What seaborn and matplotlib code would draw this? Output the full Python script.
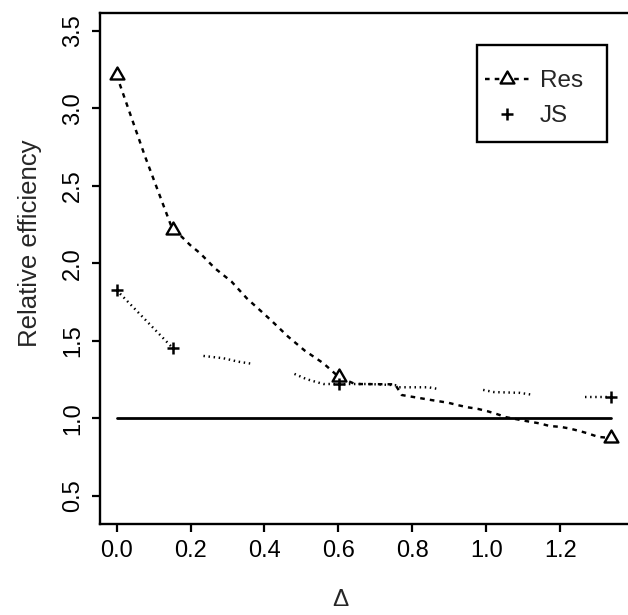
import numpy as np
import pandas as pd
import matplotlib
matplotlib.use("Agg")
import matplotlib.pyplot as plt
from matplotlib.path import Path
from matplotlib.lines import Line2D
from matplotlib.patches import Rectangle
import seaborn as sns

# Res: relative efficiency curve (dashed) and its marked points
res_x = [0.000, 0.077, 0.152, 0.176, 0.199, 0.226, 0.266, 0.311, 0.352, 0.397,
         0.419, 0.464, 0.509, 0.559, 0.602, 0.645, 0.753, 0.771, 0.808, 0.850,
         0.897, 0.924, 0.949, 0.976, 1.002, 1.026, 1.053, 1.110, 1.144, 1.171,
         1.199, 1.223, 1.250, 1.275, 1.302, 1.337]
res_y = [3.215, 2.690, 2.214, 2.172, 2.118, 2.065, 1.968, 1.882, 1.775, 1.678,
         1.630, 1.527, 1.437, 1.356, 1.265, 1.222, 1.220, 1.151, 1.136, 1.119,
         1.101, 1.085, 1.072, 1.062, 1.047, 1.030, 1.008, 0.982, 0.968, 0.951,
         0.946, 0.936, 0.920, 0.903, 0.881, 0.874]
res_mark_x = [0.000, 0.152, 0.602, 1.337]
res_mark_y = [3.215, 2.214, 1.265, 0.874]

# JS: dotted curve drawn in pieces, and its marked points
js_x = [0.000, 0.152,
        0.235, 0.289, 0.329, 0.370,
        0.481, 0.514, 0.559, 0.602, 0.680, 0.753, 0.762, 0.843, 0.874,
        0.991, 1.020, 1.090, 1.126,
        1.266, 1.337]
js_y = [1.828, 1.454,
        1.403, 1.388, 1.366, 1.351,
        1.287, 1.253, 1.222, 1.222, 1.222, 1.215, 1.201, 1.201, 1.188,
        1.184, 1.170, 1.165, 1.152,
        1.136, 1.136]
js_seg = [0, 0,
          1, 1, 1, 1,
          2, 2, 2, 2, 2, 2, 2, 2, 2,
          3, 3, 3, 3,
          4, 4]
js_mark_x = [0.000, 0.152, 0.602, 1.337]
js_mark_y = [1.828, 1.454, 1.222, 1.136]

# reference level of 1
ref_x = [0.0, 1.337]
ref_y = [1.0, 1.0]

x_ticks = [0.0, 0.2, 0.4, 0.6, 0.8, 1.0, 1.2]
y_ticks = [0.5, 1.0, 1.5, 2.0, 2.5, 3.0, 3.5]

sns.set_theme(style="white")
plt.rcParams["font.family"] = ["Liberation Sans", "DejaVu Sans"]

W, H = 628, 615
fig = plt.figure(figsize=(W / 100, H / 100), dpi=100)
left, right, top, bottom = 99.5, 630.0, 12.7, 524.3
ax = fig.add_axes([left / W, 1 - bottom / H, (right - left) / W, (bottom - top) / H])

# triangle centred on its centroid
tri = Path([(0, 1), (-0.866, -0.5), (0.866, -0.5), (0, 1)],
           [Path.MOVETO, Path.LINETO, Path.LINETO, Path.CLOSEPOLY])

LW = 1.75
res_dash = (0, (1.9, 2.1))
js_dot = (0, (0.6, 1.5))

res_df = pd.DataFrame({"x": res_x, "y": res_y})
js_df = pd.DataFrame({"x": js_x, "y": js_y, "seg": js_seg})
ref_df = pd.DataFrame({"x": ref_x, "y": ref_y})

sns.lineplot(data=ref_df, x="x", y="y", ax=ax, color="black", lw=2.0,
             estimator=None, sort=False)
sns.lineplot(data=res_df, x="x", y="y", ax=ax, color="black", lw=LW,
             linestyle=res_dash, estimator=None, sort=False)
sns.lineplot(data=js_df, x="x", y="y", units="seg", ax=ax, color="black",
             lw=LW, linestyle=js_dot, estimator=None, sort=False)

ax.plot(res_mark_x, res_mark_y, linestyle="none", marker=tri, ms=11.5,
        mfc="white", mec="black", mew=1.7, clip_on=False, zorder=5)
ax.plot(js_mark_x, js_mark_y, linestyle="none", marker="+", ms=9.0,
        mec="black", mew=1.8, clip_on=False, zorder=5)

ax.set_xlim(-0.046, 1.388)
ax.set_ylim(0.3175, 3.616)
ax.set_xticks(x_ticks)
ax.set_yticks(y_ticks)
ax.set_xticklabels([f"{v:.1f}" for v in x_ticks])
ax.set_yticklabels([f"{v:.1f}" for v in y_ticks], rotation=90, va="center")
ax.tick_params(axis="both", direction="out", length=6, width=1.6,
               color="black", labelsize=17, labelcolor="black", pad=5,
               left=True, bottom=True)
ax.set_xlabel("")
ax.set_ylabel("")
for s in ax.spines.values():
    s.set_visible(True)
    s.set_color("black")
    s.set_linewidth(1.7)

fig.text(340 / W, 1 - 600 / H, "Δ", ha="center", va="center", fontsize=17.5)
fig.text(30 / W, 1 - 243 / H, "Relative efficiency", ha="center",
         va="center", rotation=90, fontsize=18.5)

# legend entries without a frame, boxed by a separate rectangle
handles = [
    Line2D([], [], color="black", lw=LW, linestyle=res_dash, marker=tri,
           ms=11.5, mfc="white", mec="black", mew=1.7),
    Line2D([], [], color="black", linestyle="none", marker="+", ms=9.0,
           mew=1.8),
]
leg = ax.legend(handles, ["Res", "JS"], loc="upper left",
                bbox_to_anchor=(485 / W, 1 - 70 / H),
                bbox_transform=fig.transFigure, borderaxespad=0,
                frameon=False, fontsize=17.5,
                handlelength=1.8, handletextpad=0.45, borderpad=0,
                labelspacing=0.55)
fig.add_artist(Rectangle((477 / W, 1 - 142 / H), 130 / W, 97 / H,
                         transform=fig.transFigure, fill=False,
                         edgecolor="black", linewidth=1.7))

fig.savefig("out.png", dpi=100, facecolor="white")
